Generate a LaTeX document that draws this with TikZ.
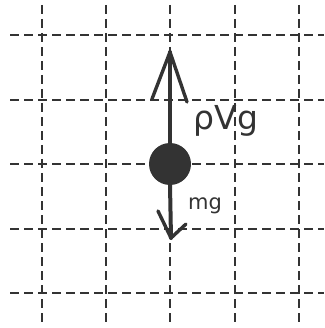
\documentclass[tikz,border=0pt]{standalone}
\usepackage{fontspec}
\newfontfamily\lblfont{DejaVu Sans}
\usetikzlibrary{arrows.meta}
\definecolor{ink}{HTML}{333333}
\begin{document}
\begin{tikzpicture}[x=1pt,y=-1pt,
  gridline/.style={ink, line width=1.4pt, dash pattern=on 9pt off 5pt},
  force/.style={ink, line width=4pt, line cap=round},
  barb/.style={ink, line width=3.4pt, line cap=round},
  lbl/.style={ink, inner sep=0pt}]
\useasboundingbox (0,0) rectangle (324,328);
\foreach \x in {42,106,170,235,299} \draw[gridline] (\x,5) -- (\x,326);
\foreach \y in {35,100,164,229,293} \draw[gridline] (10,\y) -- (324,\y);
\node[circle, fill=ink, minimum size=42pt, inner sep=0pt] (ball) at (170,164) {};
\coordinate (top) at (170,52);
\coordinate (bot) at (171,238);
\draw[force] (ball.north) -- (top);
\draw[force] (ball.south) -- (bot);
\draw[barb] (top) -- (152,99);
\draw[barb] (top) -- (187,102);
\draw[barb] (bot) -- (158,211);
\draw[barb] (bot) -- (186,224);
\node[lbl, font=\lblfont\fontsize{33}{33}\selectfont] (up) at (226,121) {ρVg};
\node[lbl, font=\lblfont\fontsize{21}{21}\selectfont] (dn) at (205,206) {mg};
\end{tikzpicture}
\end{document}
